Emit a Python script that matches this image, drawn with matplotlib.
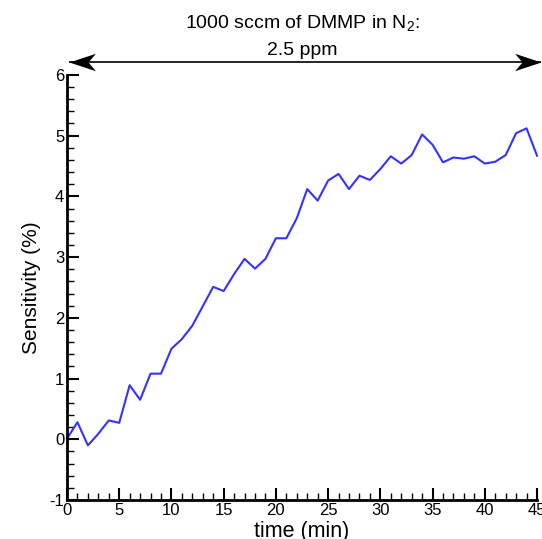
import matplotlib
matplotlib.use("Agg")
import matplotlib.pyplot as plt
from matplotlib.ticker import MultipleLocator
from matplotlib.path import Path

plt.rcParams['font.family'] = ['Liberation Sans', 'DejaVu Sans']
plt.rcParams['mathtext.fontset'] = 'custom'
plt.rcParams['mathtext.rm'] = 'Liberation Sans'
plt.rcParams['mathtext.default'] = 'regular'
plt.rcParams['axes.unicode_minus'] = False

time_min = list(range(0, 46))
sensitivity = [0.01, 0.28, -0.10, 0.09, 0.31, 0.27, 0.89, 0.65, 1.08, 1.08,
               1.49, 1.65, 1.87, 2.19, 2.51, 2.44, 2.72, 2.97, 2.81, 2.97,
               3.31, 3.31, 3.64, 4.12, 3.93, 4.26, 4.37, 4.12, 4.34, 4.27,
               4.45, 4.66, 4.54, 4.68, 5.02, 4.85, 4.56, 4.64, 4.62, 4.66,
               4.54, 4.57, 4.68, 5.04, 5.12, 4.67]

title_lines = ["1000 sccm of DMMP in N$_2$:", "2.5 ppm"]
arrow_span = [0.2, 45.4]
arrow_level = 6.21

fig = plt.figure(figsize=(5.42, 5.39), dpi=100)
ax = fig.add_axes([0.1236, 0.0724, 0.8672, 0.7886])
ax.plot(time_min, sensitivity, color='#3333ff', lw=1.5, clip_on=False)

ax.set_xlim(0, 45)
ax.set_ylim(-1, 6)
ax.xaxis.set_major_locator(MultipleLocator(5))
ax.xaxis.set_minor_locator(MultipleLocator(1))
ax.yaxis.set_major_locator(MultipleLocator(1))
ax.yaxis.set_minor_locator(MultipleLocator(0.2))
for s in ['top', 'right']:
    ax.spines[s].set_visible(False)
for s in ['left', 'bottom']:
    ax.spines[s].set_linewidth(2)
ax.tick_params(which='major', direction='in', length=8.4, width=1.5, labelsize=12, pad=2)
ax.tick_params(which='minor', direction='in', length=4.8, width=1.0)

ax.set_xlabel('time (min)', fontsize=15.5, labelpad=2)
ax.set_ylabel('Sensitivity (%)', fontsize=15, labelpad=6)

# double-headed swept arrow
ax.plot(arrow_span, [arrow_level, arrow_level], color='black', lw=1.2,
        clip_on=False, solid_capstyle='butt')
head_r = Path([(0, 0), (-1, 0.33), (-0.72, 0), (-1, -0.33), (0, 0)],
              [Path.MOVETO, Path.LINETO, Path.LINETO, Path.LINETO, Path.CLOSEPOLY])
head_l = Path([(0, 0), (1, 0.33), (0.72, 0), (1, -0.33), (0, 0)],
              [Path.MOVETO, Path.LINETO, Path.LINETO, Path.LINETO, Path.CLOSEPOLY])
ax.plot([arrow_span[1]], [arrow_level], marker=head_r, markersize=38,
        color='black', markeredgewidth=0, clip_on=False, linestyle='none')
ax.plot([arrow_span[0]], [arrow_level], marker=head_l, markersize=38,
        color='black', markeredgewidth=0, clip_on=False, linestyle='none')

ax.text(22.5, 6.86, title_lines[0], ha='center', va='center', fontsize=14,
        clip_on=False)
ax.text(22.5, 6.40, title_lines[1], ha='center', va='center', fontsize=14,
        clip_on=False)

fig.savefig('out.png', dpi=100)
